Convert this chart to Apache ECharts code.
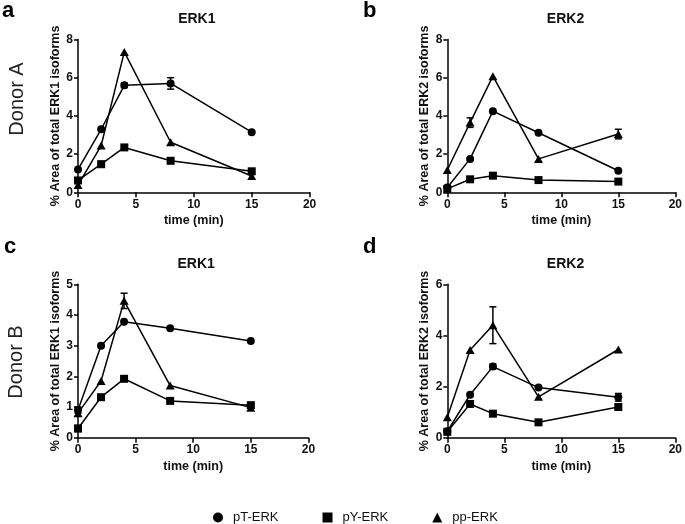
<!DOCTYPE html>
<html>
<head>
<meta charset="utf-8">
<script src="https://cdn.jsdelivr.net/npm/echarts@6/dist/echarts.min.js"></script>
<style>html,body{margin:0;padding:0;background:#fff}#c{width:685px;height:524px}</style>
</head>
<body>
<div id="c"></div>
<script>
// ---- data ----
const times = [0, 2, 4, 8, 15];
const seriesNames = ['pT-ERK', 'pY-ERK', 'pp-ERK'];
const panelTitles = ['ERK1', 'ERK2', 'ERK1', 'ERK2'];
const panelLetters = ['a', 'b', 'c', 'd'];
const donorLabels = ['Donor A', 'Donor B'];
const yNames = ['% Area of total ERK1 isoforms', '% Area of total ERK2 isoforms', '% Area of total ERK1 isoforms', '% Area of total ERK2 isoforms'];
const yMax = [8, 8, 5, 6];
const yStep = [2, 2, 1, 2];

// panel a
const aPT = [1.2, 3.3, 5.6, 5.7, 3.15];
const aPTErr = [0, 0, 0.12, 0.3, 0];
const aPY = [0.62, 1.47, 2.35, 1.65, 1.1];
const aPYErr = [0, 0.15, 0, 0, 0.08];
const aPP = [0.38, 2.45, 7.35, 2.62, 0.85];
const aPPErr = [0, 0, 0, 0, 0];
// panel b
const bPT = [0.25, 1.75, 4.25, 3.12, 1.13];
const bPTErr = [0, 0, 0, 0, 0];
const bPY = [0.18, 0.68, 0.87, 0.64, 0.56];
const bPYErr = [0, 0, 0, 0, 0];
const bPP = [1.17, 3.65, 6.08, 1.75, 3.05];
const bPPErr = [0, 0.25, 0, 0, 0.25];
// panel c
const cPT = [0.9, 3.0, 3.78, 3.57, 3.15];
const cPTErr = [0.1, 0, 0, 0, 0];
const cPY = [0.3, 1.32, 1.92, 1.2, 1.06];
const cPYErr = [0.1, 0, 0, 0, 0.05];
const cPP = [0.8, 1.85, 4.46, 1.7, 0.98];
const cPPErr = [0, 0, 0.25, 0, 0];
// panel d
const dPT = [0.25, 1.68, 2.78, 1.96, 1.58];
const dPTErr = [0, 0, 0.1, 0, 0.15];
const dPY = [0.23, 1.32, 0.94, 0.6, 1.2];
const dPYErr = [0, 0, 0, 0, 0.1];
const dPP = [0.8, 3.43, 4.4, 1.6, 3.45];
const dPPErr = [0, 0, 0.72, 0, 0];

const panels = [
  [[aPT, aPTErr], [aPY, aPYErr], [aPP, aPPErr]],
  [[bPT, bPTErr], [bPY, bPYErr], [bPP, bPPErr]],
  [[cPT, cPTErr], [cPY, cPYErr], [cPP, cPPErr]],
  [[dPT, dPTErr], [dPY, dPYErr], [dPP, dPPErr]]
];

// ---- layout ----
const FONT = 'Liberation Sans, Arial, Helvetica, sans-serif';
const grids = [
  {left: 78, top: 39.5, width: 231.6, height: 152.8},
  {left: 447.3, top: 39.5, width: 230.4, height: 152.8},
  {left: 78, top: 284.3, width: 230.4, height: 153.4},
  {left: 447.3, top: 284.3, width: 230.4, height: 153.4}
];
const symbols = ['circle', 'rect', 'triangle'];
const symSizes = [8, 8, [9, 8]];

const xAxes = [], yAxes = [], series = [], titles = [];
grids.forEach((g, i) => {
  const axStyle = {lineStyle: {color: '#000', width: 1.5}};
  xAxes.push({
    gridIndex: i, type: 'value', min: 0, max: 20, interval: 5,
    name: 'time (min)', nameLocation: 'middle', nameGap: 22,
    nameTextStyle: {fontFamily: FONT, fontWeight: 'bold', fontSize: 12.5, color: '#111'},
    axisLine: {show: true, onZero: false, ...axStyle},
    axisTick: {show: true, length: 5, ...axStyle},
    axisLabel: {fontFamily: FONT, fontWeight: 'bold', fontSize: 12, color: '#111', margin: 6},
    splitLine: {show: false}
  });
  yAxes.push({
    gridIndex: i, type: 'value', min: 0, max: yMax[i], interval: yStep[i],
    name: yNames[i], nameLocation: 'middle', nameRotate: 90, nameGap: 16,
    nameTextStyle: {fontFamily: FONT, fontWeight: 'bold', fontSize: 12.5, color: '#111'},
    axisLine: {show: true, onZero: false, ...axStyle},
    axisTick: {show: true, length: 4, ...axStyle},
    axisLabel: {fontFamily: FONT, fontWeight: 'bold', fontSize: 12, color: '#111', margin: 5},
    splitLine: {show: false}
  });
  panels[i].forEach((pair, s) => {
    const vals = pair[0], errs = pair[1];
    series.push({
      type: 'line', name: seriesNames[s], xAxisIndex: i, yAxisIndex: i,
      data: times.map((t, k) => [t, vals[k]]),
      symbol: symbols[s], symbolSize: symSizes[s], showAllSymbol: true,
      lineStyle: {color: '#000', width: 1.5},
      itemStyle: {color: '#000'},
      z: 3, animation: false
    });
    const ebData = [];
    times.forEach((t, k) => { if (errs[k] > 0) ebData.push([t, vals[k] - errs[k], vals[k] + errs[k]]); });
    if (ebData.length) {
      series.push({
        type: 'custom', name: seriesNames[s] + ' err', xAxisIndex: i, yAxisIndex: i,
        data: ebData, encode: {x: 0, y: [1, 2]}, z: 4, animation: false,
        renderItem: function (params, api) {
          const x = api.value(0);
          const lo = api.coord([x, api.value(1)]);
          const hi = api.coord([x, api.value(2)]);
          const w = 3.5;
          const st = {stroke: '#000', lineWidth: 1.5};
          return {type: 'group', children: [
            {type: 'line', shape: {x1: lo[0], y1: lo[1], x2: hi[0], y2: hi[1]}, style: st},
            {type: 'line', shape: {x1: hi[0] - w, y1: hi[1], x2: hi[0] + w, y2: hi[1]}, style: st},
            {type: 'line', shape: {x1: lo[0] - w, y1: lo[1], x2: lo[0] + w, y2: lo[1]}, style: st}
          ]};
        }
      });
    }
  });
  titles.push({
    text: panelTitles[i], left: g.left + g.width / 2 - 2, top: g.top - 32,
    textAlign: 'center',
    textStyle: {fontFamily: FONT, fontWeight: 'bold', fontSize: 14, color: '#111'}
  });
});

const letterPos = [[2, 0], [363, 0], [4, 236], [363, 236]];
const graphics = [];
letterPos.forEach((p, i) => {
  graphics.push({type: 'text', left: p[0], top: p[1],
    style: {text: panelLetters[i], font: 'bold 22px ' + FONT, fill: '#000'}});
});
[[17, 99], [16, 362]].forEach((p, i) => {
  graphics.push({type: 'text', x: p[0], y: p[1], rotation: Math.PI / 2,
    style: {text: donorLabels[i], font: '20px ' + FONT, fill: '#222', textAlign: 'center', textVerticalAlign: 'middle'}});
});

const chart = echarts.init(document.getElementById('c'), null, {renderer: 'canvas'});
chart.setOption({
  animation: false,
  backgroundColor: '#fff',
  title: titles,
  grid: grids,
  xAxis: xAxes,
  yAxis: yAxes,
  series: series,
  graphic: graphics,
  legend: {
    left: 208, top: 506, itemWidth: 10, itemHeight: 10, itemGap: 44,
    textStyle: {fontFamily: FONT, fontSize: 13, color: '#111', padding: [0, 0, 0, 5]},
    data: [
      {name: 'pT-ERK', icon: 'circle'},
      {name: 'pY-ERK', icon: 'rect'},
      {name: 'pp-ERK', icon: 'triangle'}
    ],
    selectedMode: false
  }
});
</script>
</body>
</html>
